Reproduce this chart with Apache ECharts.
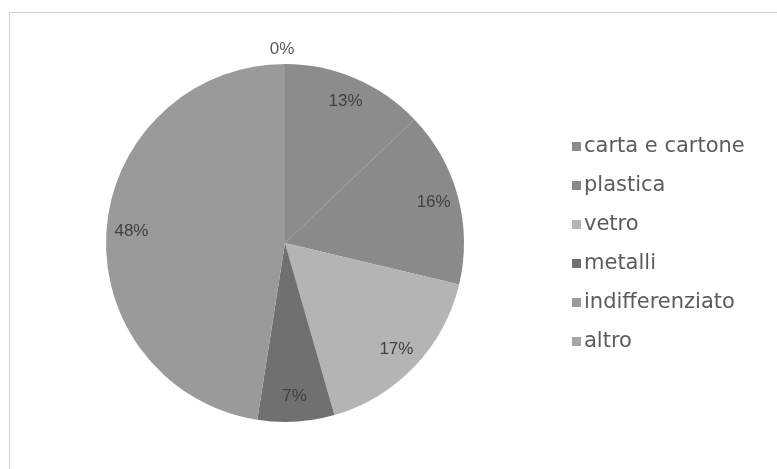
<!DOCTYPE html>
<html>
<head>
<meta charset="utf-8">
<script src="https://cdn.jsdelivr.net/npm/echarts@6/dist/echarts.min.js"></script>
<style>
  html, body { margin: 0; padding: 0; background: #ffffff; }
  #chart { width: 777px; height: 469px; }
</style>
</head>
<body>
<div id="chart"></div>
<script>
// Waste composition by material (percent)
const categories = ['carta e cartone', 'plastica', 'vetro', 'metalli', 'indifferenziato', 'altro'];
const shares = [13, 16, 17, 7, 48, 0];
const sliceColors = ['#8c8c8c', '#8a8a8a', '#b4b4b4', '#707070', '#9a9a9a', '#a6a6a6'];

const CENTER = [285, 243];
const RADIUS = 179;

const pieData = categories.map((name, i) => ({
  name: name,
  value: shares[i],
  itemStyle: { color: sliceColors[i] }
}));

// Label-only ring: same values, transparent, so 'inside' labels sit near the rim
const labelData = categories.map((name, i) => {
  const item = { name: name, value: shares[i], itemStyle: { color: 'rgba(0,0,0,0)' } };
  if (shares[i] === 0) {
    item.label = { position: 'outside', color: '#595959', distance: 0 };
    item.labelLine = { show: false, length: 14, length2: 0 };
  }
  return item;
});

const chart = echarts.init(document.getElementById('chart'), null, { renderer: 'canvas' });

chart.setOption({
  backgroundColor: '#ffffff',
  animation: false,
  graphic: [{
    type: 'rect',
    shape: { x: 9.5, y: 12.5, width: 800, height: 500 },
    style: { fill: 'none', stroke: '#d4d4d4', lineWidth: 1 },
    silent: true
  }],
  legend: {
    orient: 'vertical',
    left: 567,
    top: 131,
    itemWidth: 9,
    itemHeight: 9,
    itemGap: 18,
    icon: 'rect',
    textStyle: { fontFamily: 'DejaVu Sans', fontSize: 21, color: '#5c5c5c', padding: [0, 0, 0, -2] },
    data: categories
  },
  series: [
    {
      type: 'pie',
      center: CENTER,
      radius: RADIUS,
      startAngle: 90,
      clockwise: true,
      avoidLabelOverlap: false,
      silent: true,
      label: { show: false },
      labelLine: { show: false },
      itemStyle: { borderWidth: 0 },
      data: pieData
    },
    {
      type: 'pie',
      center: CENTER,
      radius: [122, 180],
      startAngle: 90,
      clockwise: true,
      avoidLabelOverlap: false,
      silent: true,
      legendHoverLink: false,
      label: {
        show: true,
        position: 'inside',
        formatter: '{c}%',
        fontFamily: 'Liberation Sans',
        fontSize: 17,
        color: '#404040'
      },
      labelLine: { show: false },
      labelLayout: function (p) {
        return p.dataIndex === 5 ? { align: 'center', dx: 2 } : {};
      },
      itemStyle: { borderWidth: 0 },
      data: labelData
    }
  ]
});
</script>
</body>
</html>
